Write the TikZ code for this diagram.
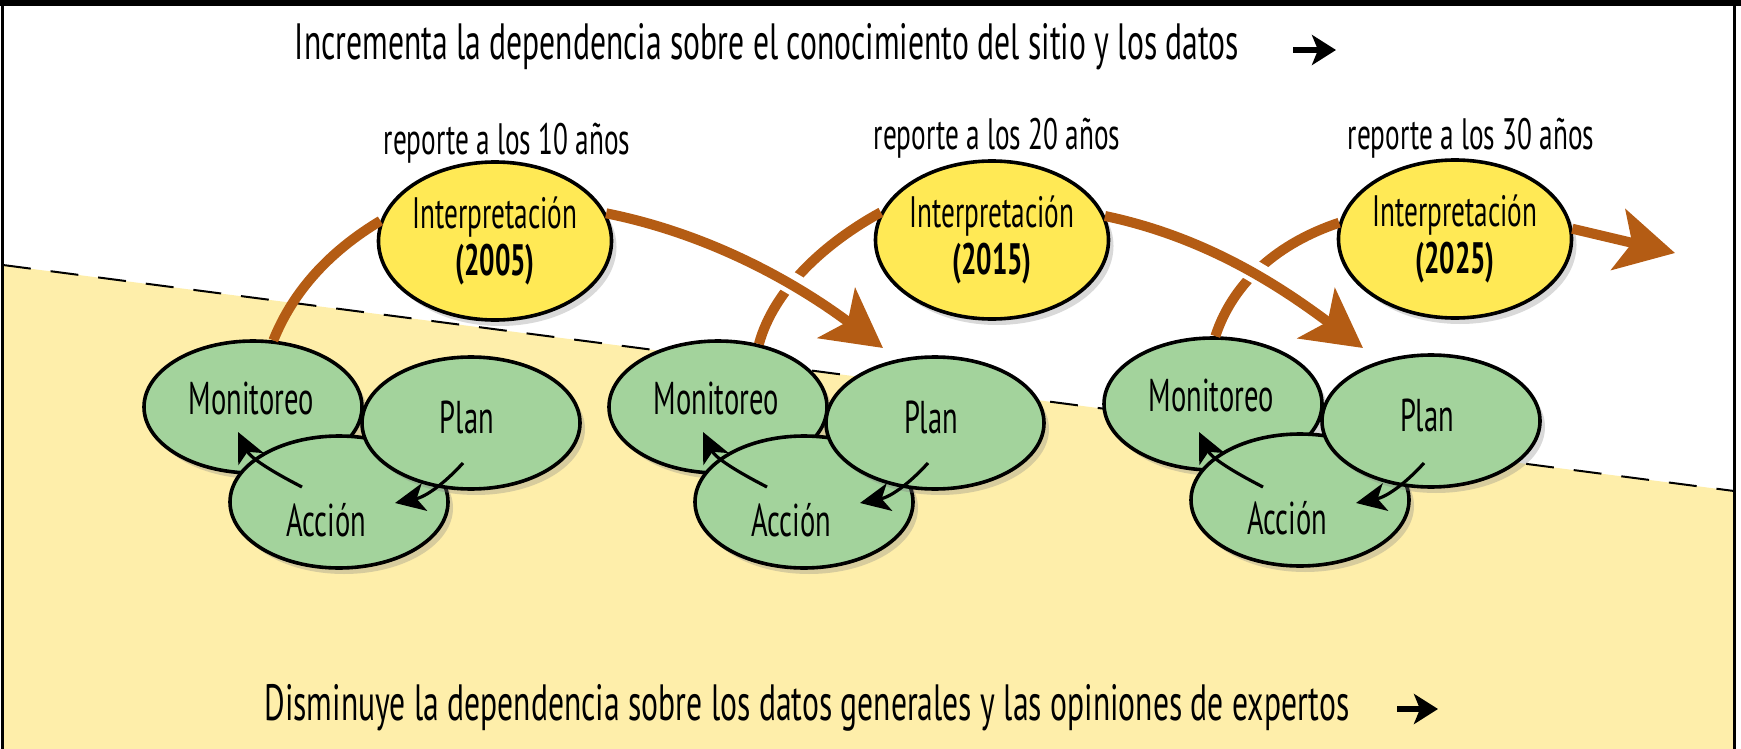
\documentclass[tikz,border=0pt]{standalone}
\usepackage{fontspec}
\setmainfont{PT Sans}[FakeStretch=0.62]
\usetikzlibrary{arrows.meta,shapes.geometric,shadows}
\definecolor{sand}{RGB}{254,238,170}
\definecolor{leaf}{RGB}{163,211,156}
\definecolor{sun}{RGB}{255,233,85}
\definecolor{rust}{RGB}{180,92,20}
\begin{document}
\begin{tikzpicture}[x=0.5pt,y=-0.5pt,
    every node/.style={font=\fontsize{23}{26}\selectfont},
    stage/.style={ellipse,draw,line width=1.8pt,fill=leaf,minimum width=109pt,minimum height=66pt,inner sep=0pt,
      drop shadow={shadow xshift=2.5pt,shadow yshift=-3pt,opacity=0.3}},
    interp/.style={ellipse,draw,line width=1.8pt,fill=sun,minimum width=115pt,minimum height=79pt,inner sep=0pt,
      align=center,font=\fontsize{22}{23.5}\selectfont,drop shadow={shadow xshift=2.5pt,shadow yshift=-3pt,opacity=0.3}},
    report/.style={font=\fontsize{22}{25}\selectfont},
    caption/.style={font=\fontsize{25.5}{29}\selectfont},
    rise/.style={draw=rust,line width=5pt},
    casing/.style={draw=white,line width=11pt},
    trend/.style={draw=rust,line width=5pt,-{Stealth[length=29pt,width=31pt,inset=7pt]}},
    turn/.style={line width=1.6pt,-{Stealth[length=15pt,width=14pt,inset=4pt]}},
    hint/.style={line width=3pt,-{Stealth[length=12pt,width=15pt,inset=3pt]}}]
            \useasboundingbox (0,0) rectangle (1741,749);
            \fill[sand] (2,265) -- (1734,491) -- (1734,749) -- (2,749) -- cycle;
            \draw[dash pattern=on 14pt off 10pt,line width=1pt] (3,265) -- (1734,491);
            \fill (0,0) rectangle (1741,6);
            \draw[line width=1.5pt] (2,0) -- (2,749) (1734,0) -- (1734,749);

            \node[caption] (T) at (767,47) {Incrementa la dependencia sobre el conocimiento del sitio y los datos};
            \node[caption] (B) at (807,708) {Disminuye la dependencia sobre los datos generales y las opiniones de expertos};
            \coordinate (t) at (1293,50);
            \coordinate (te) at (1336,50);
            \coordinate (b) at (1397,709);
            \coordinate (be) at (1438,709);
            \path [hint] (t) edge (te);
            \path [hint] (b) edge (be);

            \node[report] (R1) at (507,143) {reporte a los 10 años};
            \node[report] (R2) at (997,138) {reporte a los 20 años};
            \node[report] (R3) at (1471,138) {reporte a los 30 años};

            \node[interp] (I1) at (495,241) {Interpretación\\\textbf{(2005)}};
            \node[interp] (I2) at (992,240) {Interpretación\\\textbf{(2015)}};
            \node[interp] (I3) at (1455,239) {Interpretación\\\textbf{(2025)}};

            \node[stage,label={[xshift=-1pt,yshift=4.5pt]center:Monitoreo}] (M1) at (253,407) {};
            \node[stage,label={[xshift=-6.5pt,yshift=-9pt]center:Acción}] (A1) at (339,502) {};
            \node[stage,label={[xshift=-2pt,yshift=3pt]center:Plan}] (P1) at (471,423) {};

            \node[stage,label={[xshift=-1pt,yshift=4.5pt]center:Monitoreo}] (M2) at (718,407) {};
            \node[stage,label={[xshift=-6.5pt,yshift=-9pt]center:Acción}] (A2) at (804,502) {};
            \node[stage,label={[xshift=-2pt,yshift=3pt]center:Plan}] (P2) at (935,423) {};

            \node[stage,label={[xshift=-1pt,yshift=4.5pt]center:Monitoreo}] (M3) at (1213,404) {};
            \node[stage,label={[xshift=-6.5pt,yshift=-9pt]center:Acción}] (A3) at (1300,500) {};
            \node[stage,label={[xshift=-2pt,yshift=3pt]center:Plan}] (P3) at (1431,421) {};

            \draw[rise] (M1.73) .. controls +(20,-50) and +(-50,30) .. (I1.170);
            \draw[rise] (M2.57) .. controls +(15,-55) and +(-55,30) .. (I2.166);
            \draw[rise] (M3.88) .. controls +(18,-55) and +(-60,20) .. (I3.172);

            \coordinate (a2) at (883,348);
            \coordinate (a3) at (1363,348);
            \coordinate (a4) at (1675,253);
            \draw[casing,shorten <=20pt,shorten >=32pt] (I1.14) .. controls +(110,22) and +(-80,-60) .. (a2);
            \draw[trend] (I1.14) .. controls +(110,22) and +(-80,-60) .. (a2);
            \draw[casing,shorten <=20pt,shorten >=32pt] (I2.12) .. controls +(105,22) and +(-78,-58) .. (a3);
            \draw[trend] (I2.12) .. controls +(105,22) and +(-78,-58) .. (a3);
            \draw[trend] (I3.5) -- (a4);

            \coordinate (s1) at (302,487);
            \coordinate (e1) at (238,432);
            \coordinate (u1) at (463,463);
            \coordinate (v1) at (395,503);
            \coordinate (s2) at (767,487);
            \coordinate (e2) at (703,432);
            \coordinate (u2) at (928,463);
            \coordinate (v2) at (860,503);
            \coordinate (s3) at (1263,487);
            \coordinate (e3) at (1199,432);
            \coordinate (u3) at (1424,463);
            \coordinate (v3) at (1356,503);
            \draw[turn] (s1) .. controls +(-35,-18) and +(12,25) .. (e1);
            \draw[turn] (u1) .. controls +(-20,22) and +(30,-6) .. (v1);
            \draw[turn] (s2) .. controls +(-35,-18) and +(12,25) .. (e2);
            \draw[turn] (u2) .. controls +(-20,22) and +(30,-6) .. (v2);
            \draw[turn] (s3) .. controls +(-35,-18) and +(12,25) .. (e3);
            \draw[turn] (u3) .. controls +(-20,22) and +(30,-6) .. (v3);
        \end{tikzpicture}
\end{document}
